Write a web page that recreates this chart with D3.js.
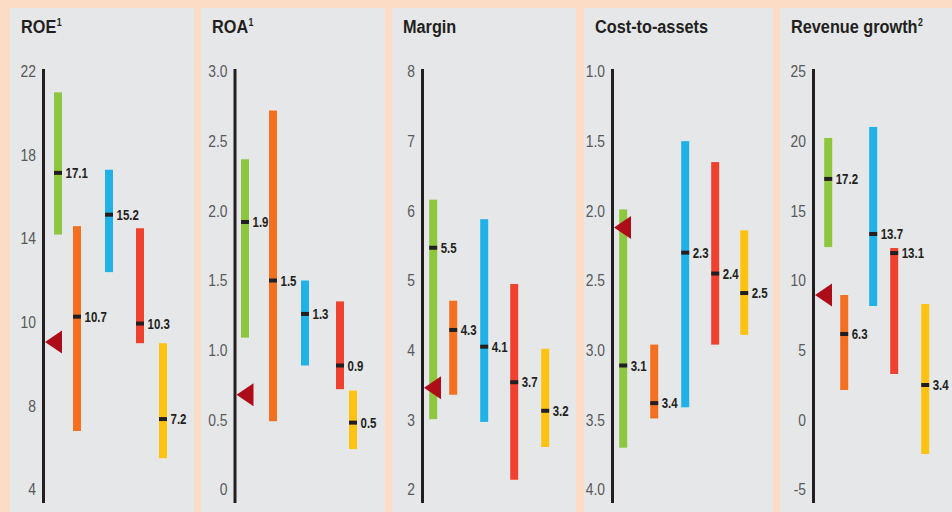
<!DOCTYPE html>
<html>
<head>
<meta charset="utf-8">
<script src="https://cdn.jsdelivr.net/npm/d3@7"></script>
<style>
  html, body { margin: 0; padding: 0; background: #FDDCC6; }
  svg { display: block; }
  text { font-family: "Liberation Sans", Arial, Helvetica, sans-serif; }
</style>
</head>
<body>
<svg id="chart" width="952" height="512"></svg>
<script>
// ---------------- data ----------------
const metrics = ["ROE", "ROA", "Margin", "Cost-to-assets", "Revenue growth"];
const footnotes = ["1", "1", "", "", "2"];
const groups = ["Group A", "Group B", "Group C", "Group D", "Group E"];

const roeTicks = [22, 18, 14, 10, 8, 4];
const roeTickLabels = ["22", "18", "14", "10", "8", "4"];
const roeLow = [14.2, 6.8, 12.4, 9.5, 5.5];
const roeHigh = [21.0, 14.6, 17.3, 14.5, 9.5];
const roeMarker = [17.15, 10.27, 15.15, 9.97, 7.37];
const roeLabel = ["17.1", "10.7", "15.2", "10.3", "7.2"];
const roeBenchmark = 9.53;

const roaTicks = [3.0, 2.5, 2.0, 1.5, 1.0, 0.5, 0];
const roaTickLabels = ["3.0", "2.5", "2.0", "1.5", "1.0", "0.5", "0"];
const roaLow = [1.09, 0.49, 0.89, 0.72, 0.29];
const roaHigh = [2.37, 2.72, 1.50, 1.35, 0.71];
const roaMarker = [1.92, 1.50, 1.26, 0.89, 0.48];
const roaLabel = ["1.9", "1.5", "1.3", "0.9", "0.5"];
const roaBenchmark = 0.68;

const marginTicks = [8, 7, 6, 5, 4, 3, 2];
const marginTickLabels = ["8", "7", "6", "5", "4", "3", "2"];
const marginLow = [3.01, 3.36, 2.97, 2.14, 2.61];
const marginHigh = [6.16, 4.71, 5.88, 4.95, 4.02];
const marginMarker = [5.47, 4.29, 4.05, 3.54, 3.13];
const marginLabel = ["5.5", "4.3", "4.1", "3.7", "3.2"];
const marginBenchmark = 3.46;

const costTicks = [1.0, 1.5, 2.0, 2.5, 3.0, 3.5, 4.0];
const costTickLabels = ["1.0", "1.5", "2.0", "2.5", "3.0", "3.5", "4.0"];
const costLow = [3.70, 3.49, 3.41, 2.96, 2.89];   // bottom end (axis inverted)
const costHigh = [1.99, 2.96, 1.50, 1.65, 2.14];  // top end
const costMarker = [3.11, 3.38, 2.30, 2.45, 2.59];
const costLabel = ["3.1", "3.4", "2.3", "2.4", "2.5"];
const costBenchmark = 2.12;

const revTicks = [25, 20, 15, 10, 5, 0, -5];
const revTickLabels = ["25", "20", "15", "10", "5", "0", "-5"];
const revLow = [12.4, 2.14, 8.17, 3.29, -2.45];
const revHigh = [20.23, 8.96, 21.02, 12.33, 8.31];
const revMarker = [17.29, 6.16, 13.34, 11.97, 2.5];
const revLabel = ["17.2", "6.3", "13.7", "13.1", "3.4"];
const revBenchmark = 8.96;

// ---------------- layout / style ----------------
const groupColors = ["#8DC63F", "#F37021", "#20B2E6", "#EF4130", "#FEC210"];
const panelLeft = [10, 201, 392, 584, 780];
const panelWidth = [184, 184, 184, 189, 180];
const axisOffset = [33.5, 34, 30.5, 28.5, 33.5];
// horizontal slot of each group inside a panel (px right of the axis)
const slotOffsets = [
  [14.5, 33.5, 65.5, 96.5, 119.5],
  [10, 38, 70, 105, 118],
  [10.7, 30.7, 61.7, 91.7, 122.7],
  [10.7, 41.7, 72.7, 102.7, 131.7],
  [14.7, 30.7, 59.7, 80.7, 111.7]
];
const plotTop = 71.5, plotBottom = 489.5;
const condense = 0.84;   // horizontal squeeze to mimic a condensed typeface

const panels = [
  { ticks: roeTicks, tickLabels: roeTickLabels, low: roeLow, high: roeHigh, marker: roeMarker, label: roeLabel, bench: roeBenchmark },
  { ticks: roaTicks, tickLabels: roaTickLabels, low: roaLow, high: roaHigh, marker: roaMarker, label: roaLabel, bench: roaBenchmark },
  { ticks: marginTicks, tickLabels: marginTickLabels, low: marginLow, high: marginHigh, marker: marginMarker, label: marginLabel, bench: marginBenchmark },
  { ticks: costTicks, tickLabels: costTickLabels, low: costLow, high: costHigh, marker: costMarker, label: costLabel, bench: costBenchmark },
  { ticks: revTicks, tickLabels: revTickLabels, low: revLow, high: revHigh, marker: revMarker, label: revLabel, bench: revBenchmark }
];

const svg = d3.select("#chart");
svg.append("rect").attr("width", 952).attr("height", 512).attr("fill", "#FDDCC6");

panels.forEach((p, pi) => {
  const g = svg.append("g").attr("transform", `translate(${panelLeft[pi]},0)`);
  g.append("rect").attr("x", 0).attr("y", 8).attr("width", panelWidth[pi]).attr("height", 520).attr("fill", "#E6E7E9");

  const title = g.append("text")
    .attr("transform", `translate(11,33) scale(0.88,1)`)
    .attr("font-size", 18.5).attr("font-weight", "bold").attr("fill", "#231F20")
    .text(metrics[pi]);
  if (footnotes[pi]) {
    title.append("tspan").attr("font-size", 10).attr("dy", -7.5).attr("dx", 0.5).text(footnotes[pi]);
  }

  const n = p.ticks.length;
  const y = d3.scaleLinear()
    .domain(p.ticks)
    .range(p.ticks.map((_, i) => plotTop + i * (plotBottom - plotTop) / (n - 1)));

  const ax = axisOffset[pi];

  // axis
  const axis = d3.axisLeft(y).tickValues(p.ticks).tickFormat((d, i) => p.tickLabels[i])
    .tickSize(0).tickPadding(7.5 / condense);
  const axG = g.append("g").attr("transform", `translate(${ax},0)`).call(axis);
  axG.select(".domain").remove();
  axG.selectAll("text").attr("font-size", 16.5).attr("fill", "#58595B")
    .attr("transform", `scale(${condense},1)`)
    .style("font-family", '"Liberation Sans", Arial, sans-serif');
  g.append("line").attr("x1", ax).attr("x2", ax)
    .attr("y1", plotTop - 2.5).attr("y2", 503)
    .attr("stroke", "#231F20").attr("stroke-width", 3);

  const rows = groups.map((grp, i) => ({
    grp, i, low: p.low[i], high: p.high[i], marker: p.marker[i], label: p.label[i],
    cx: ax + slotOffsets[pi][i]
  }));

  const barW = 8;
  g.selectAll(".bar").data(rows).join("rect").attr("class", "bar")
    .attr("x", d => d.cx - barW / 2)
    .attr("y", d => Math.min(y(d.low), y(d.high)))
    .attr("width", barW)
    .attr("height", d => Math.abs(y(d.low) - y(d.high)))
    .attr("fill", d => groupColors[d.i]);

  g.selectAll(".mk").data(rows).join("rect").attr("class", "mk")
    .attr("x", d => d.cx - barW / 2)
    .attr("y", d => y(d.marker) - 2)
    .attr("width", barW).attr("height", 4)
    .attr("fill", "#231F20");

  g.selectAll(".lbl").data(rows).join("text").attr("class", "lbl")
    .attr("transform", d => `translate(${d.cx + barW / 2 + 3.5},${y(d.marker)}) scale(0.82,1)`)
    .attr("dy", "0.36em")
    .attr("font-size", 14).attr("font-weight", "bold").attr("fill", "#231F20")
    .text(d => d.label);

  // benchmark triangle
  const by = y(p.bench);
  const tipX = ax + 1.5;
  g.append("path")
    .attr("d", `M${tipX},${by} L${tipX + 17},${by - 11.5} L${tipX + 17},${by + 11.5} Z`)
    .attr("fill", "#AD0D18");
});
</script>
</body>
</html>
